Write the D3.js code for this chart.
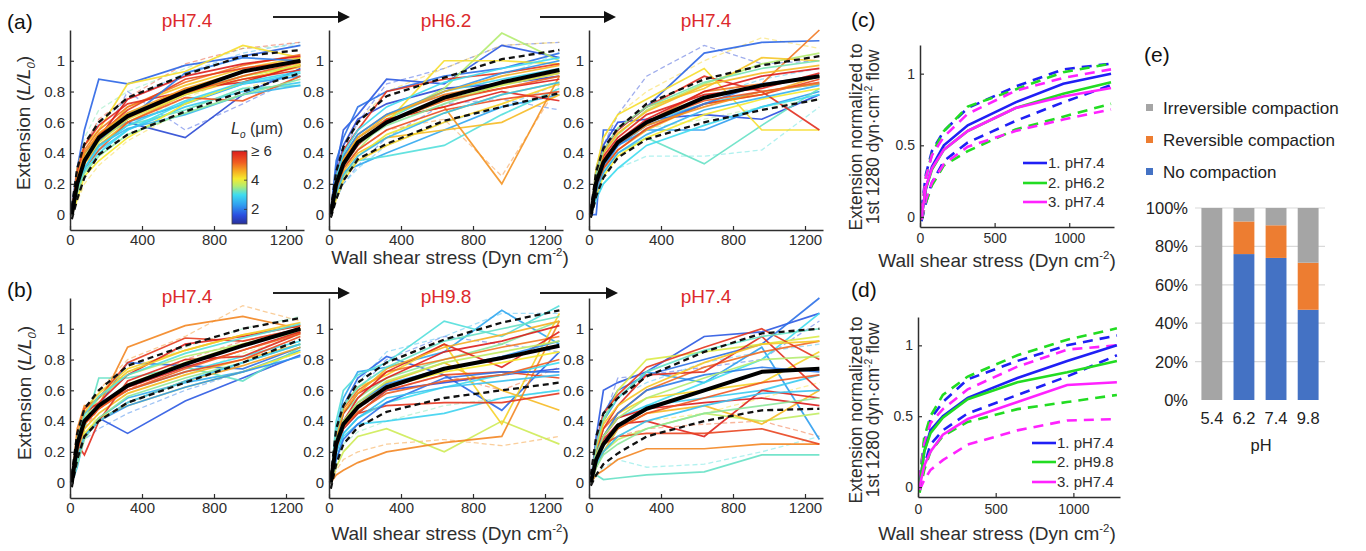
<!DOCTYPE html>
<html>
<head>
<meta charset="utf-8">
<script src="https://cdn.jsdelivr.net/npm/d3@7"></script>
<style>
  body { margin: 0; background: #fff; }
  svg { display: block; font-family: "Liberation Sans", Arial, sans-serif; }
</style>
</head>
<body>
<svg id="fig" width="1366" height="551"></svg>
<script>
// shear stress levels (Dyn cm-2)
var stress = [10, 40, 80, 160, 320, 640, 960, 1280];

var xTicksAB = [0, 400, 800, 1200]
    , yTicksAB = [0, 0.2, 0.4, 0.6, 0.8, 1]
    , xTicksCD = [0, 500, 1000]
    , yTicksCD = [0, 0.5, 1];

var titlesA = ["pH7.4", "pH6.2", "pH7.4"];
var titlesB = ["pH7.4", "pH9.8", "pH7.4"];

// one row per tether: [L0 (um), dashed?, extension at each stress level]
var tracesA1 = [
    [1.8,0, 0.05,0.3,0.55,0.88,0.85,0.97,1.03,1.1],
    [1.5,0, 0.0,0.22,0.4,0.52,0.6,0.5,0.78,0.95],
    [2.3,0, 0.02,0.25,0.38,0.5,0.6,0.72,0.85,0.9],
    [2.8,0, 0.0,0.18,0.3,0.42,0.55,0.7,0.8,0.86],
    [3.2,0, 0.03,0.2,0.35,0.45,0.58,0.68,0.82,0.84],
    [3.0,0, 0.0,0.15,0.28,0.4,0.55,0.73,0.85,0.92],
    [3.5,0, 0.02,0.22,0.38,0.52,0.66,0.8,0.9,0.97],
    [4.2,0, 0.0,0.3,0.45,0.55,0.85,0.93,1.1,1.02],
    [4.4,0, 0.02,0.2,0.38,0.48,0.7,0.84,0.95,1.02],
    [4.6,0, 0.0,0.18,0.33,0.45,0.6,0.78,0.88,0.96],
    [4.1,0, 0.0,0.1,0.25,0.35,0.5,0.72,0.86,0.98],
    [5.0,0, 0.03,0.25,0.42,0.55,0.7,0.86,0.97,1.04],
    [5.6,0, 0.0,0.22,0.4,0.52,0.68,0.88,0.95,1.0],
    [5.8,0, 0.02,0.28,0.45,0.58,0.72,0.8,0.88,0.94],
    [6.0,0, 0.0,0.2,0.36,0.5,0.75,0.9,0.98,1.03],
    [5.3,0, 0.0,0.15,0.3,0.42,0.6,0.76,0.74,0.9],
    [6.0,0, 0.03,0.18,0.34,0.48,0.64,0.82,0.86,0.97],
    [2.0,0, 0.0,0.2,0.35,0.48,0.62,0.92,1.02,1.0],
    [2.6,0, 0.0,0.15,0.3,0.45,0.56,0.65,0.78,0.84],
    [3.9,0, 0.0,0.2,0.34,0.47,0.62,0.78,0.9,0.97],
    [4.7,0, 0.02,0.24,0.4,0.53,0.66,0.82,0.93,1.0],
    [2.9,0, 0.0,0.16,0.3,0.44,0.58,0.74,0.86,0.93],
    [5.2,0, 0.0,0.2,0.36,0.5,0.63,0.79,0.9,0.99],
    [3.4,0, 0.0,0.14,0.27,0.38,0.52,0.66,0.78,0.88],
    [1.6,1, 0.0,0.1,0.3,0.45,0.8,0.55,0.72,0.9],
    [2.5,1, 0.02,0.28,0.45,0.6,0.75,0.92,1.05,1.12],
    [4.3,1, 0.0,0.08,0.2,0.32,0.48,0.68,0.82,0.92],
    [3.3,1, 0.0,0.25,0.5,0.68,0.8,0.95,1.08,1.1],
    [5.5,1, 0.02,0.3,0.45,0.62,0.76,0.98,1.08,1.12],
    [3.8,1, 0.0,0.15,0.32,0.45,0.58,0.76,0.9,0.98]
];
var tracesA2 = [
    [1.7,0, 0.0,0.3,0.55,0.65,0.88,0.85,1.1,1.02],
    [1.9,0, 0.02,0.35,0.5,0.7,0.8,0.9,0.95,1.05],
    [1.5,0, 0.0,0.25,0.45,0.62,0.72,0.82,0.85,0.9],
    [2.4,0, 0.0,0.15,0.28,0.32,0.4,0.55,0.7,0.78],
    [3.1,0, 0.0,0.12,0.25,0.35,0.38,0.45,0.65,0.82],
    [2.9,0, 0.0,0.2,0.35,0.5,0.62,0.8,0.88,0.95],
    [3.6,0, 0.0,0.15,0.3,0.42,0.62,0.82,1.18,1.0],
    [4.2,0, 0.0,0.2,0.35,0.48,0.6,1.0,1.0,0.98],
    [4.5,0, 0.0,0.15,0.28,0.4,0.5,0.55,0.6,0.78],
    [4.3,0, 0.0,0.1,0.22,0.35,0.45,0.6,0.72,0.85],
    [4.8,0, 0.0,0.2,0.35,0.5,0.62,0.7,0.2,0.9],
    [5.0,0, 0.0,0.22,0.38,0.52,0.65,0.78,0.85,0.92],
    [5.7,0, 0.02,0.25,0.42,0.55,0.8,0.88,0.92,0.98],
    [5.9,0, 0.0,0.18,0.32,0.45,0.62,0.7,0.8,0.74],
    [6.0,0, 0.0,0.2,0.36,0.48,0.6,0.75,0.82,0.88],
    [5.4,0, 0.0,0.15,0.3,0.42,0.55,0.68,0.75,0.8],
    [2.2,0, 0.0,0.22,0.38,0.52,0.65,0.8,0.92,1.0],
    [3.4,0, 0.0,0.18,0.32,0.46,0.58,0.72,0.85,0.94],
    [4.0,0, 0.0,0.12,0.25,0.38,0.52,0.66,0.78,0.86],
    [3.8,0, 0.0,0.18,0.33,0.46,0.6,0.74,0.84,0.92],
    [4.6,0, 0.0,0.22,0.36,0.5,0.64,0.8,0.9,0.97],
    [2.6,0, 0.0,0.14,0.26,0.38,0.5,0.66,0.78,0.86],
    [5.2,0, 0.0,0.2,0.34,0.48,0.6,0.74,0.82,0.9],
    [3.0,0, 0.0,0.25,0.4,0.55,0.7,0.86,0.95,1.02],
    [1.6,1, 0.0,0.2,0.4,0.6,0.85,0.95,1.1,1.12],
    [1.8,1, 0.0,0.1,0.2,0.32,0.5,0.72,0.75,0.68],
    [4.9,1, 0.0,0.2,0.3,0.42,0.55,0.62,0.25,0.85],
    [4.4,1, 0.0,0.25,0.45,0.6,0.8,0.95,1.1,1.12],
    [3.3,1, 0.0,0.15,0.3,0.45,0.6,0.76,0.9,1.05],
    [2.7,1, 0.0,0.1,0.2,0.3,0.45,0.6,0.7,0.85]
];
var tracesA3 = [
    [1.8,0, 0.0,0.0,0.55,0.55,0.7,1.05,1.12,1.13],
    [1.6,0, 0.0,0.3,0.45,0.6,0.62,0.65,0.62,0.78],
    [2.3,0, 0.0,0.2,0.3,0.45,0.55,0.55,0.7,0.8],
    [3.2,0, 0.0,0.15,0.28,0.4,0.5,0.33,0.58,0.82],
    [2.8,0, 0.0,0.2,0.35,0.48,0.6,0.72,0.8,0.85],
    [3.6,0, 0.0,0.25,0.4,0.52,0.68,0.85,0.98,1.05],
    [4.2,0, 0.0,0.3,0.5,0.65,0.75,0.95,0.55,0.55],
    [4.4,0, 0.0,0.25,0.42,0.56,0.7,0.82,1.02,1.0],
    [4.6,0, 0.0,0.18,0.3,0.42,0.55,0.72,0.78,0.9],
    [4.1,0, 0.0,0.12,0.25,0.38,0.5,0.65,0.75,0.82],
    [5.0,0, 0.0,0.2,0.36,0.48,0.6,0.8,0.85,1.2],
    [5.8,0, 0.0,0.25,0.42,0.55,0.7,0.9,0.8,0.55],
    [6.0,0, 0.0,0.2,0.35,0.48,0.62,0.8,0.9,0.95],
    [5.5,0, 0.0,0.15,0.3,0.42,0.56,0.72,0.78,0.88],
    [5.9,0, 0.0,0.22,0.38,0.5,0.65,0.78,0.82,0.92],
    [2.0,0, 0.0,0.18,0.32,0.45,0.58,0.72,0.85,0.9],
    [3.0,0, 0.0,0.1,0.2,0.3,0.45,0.58,0.7,0.78],
    [4.8,0, 0.0,0.2,0.35,0.46,0.58,0.7,0.8,0.85],
    [3.8,0, 0.0,0.2,0.34,0.47,0.6,0.76,0.84,0.9],
    [4.5,0, 0.0,0.24,0.4,0.53,0.67,0.84,0.92,0.97],
    [2.5,0, 0.0,0.15,0.27,0.4,0.52,0.68,0.76,0.84],
    [5.3,0, 0.0,0.2,0.36,0.48,0.6,0.74,0.8,0.86],
    [3.3,0, 0.0,0.26,0.42,0.56,0.7,0.86,0.95,1.0],
    [1.5,1, 0.0,0.2,0.45,0.65,0.9,1.1,0.98,1.0],
    [3.1,1, 0.0,0.1,0.2,0.3,0.38,0.38,0.42,0.7],
    [4.3,1, 0.0,0.3,0.5,0.65,0.8,1.0,1.15,1.08],
    [3.5,1, 0.0,0.2,0.35,0.46,0.56,0.62,0.7,0.75],
    [2.6,1, 0.0,0.15,0.3,0.44,0.6,0.76,0.88,0.95]
];
var tracesB1 = [
    [1.7,0, 0.0,0.2,0.3,0.42,0.32,0.53,0.68,0.83],
    [1.9,0, 0.0,0.25,0.4,0.5,0.78,0.76,0.74,0.88],
    [2.5,0, 0.0,0.1,0.3,0.42,0.55,0.65,0.72,0.86],
    [3.2,0, 0.0,0.15,0.35,0.68,0.68,0.75,0.66,0.88],
    [3.0,0, 0.0,0.2,0.38,0.5,0.6,0.72,0.82,0.92],
    [3.6,0, 0.0,0.25,0.42,0.55,0.7,0.82,0.9,0.98],
    [4.3,0, 0.0,0.28,0.48,0.58,0.74,0.86,0.96,1.02],
    [4.5,0, 0.0,0.2,0.35,0.45,0.58,0.7,0.8,0.9],
    [4.1,0, 0.0,0.15,0.32,0.42,0.5,0.62,0.72,0.85],
    [4.9,0, 0.0,0.35,0.5,0.5,0.88,1.02,1.08,1.0],
    [5.6,0, 0.0,0.3,0.48,0.55,0.78,0.94,0.92,1.0],
    [5.8,0, 0.0,0.25,0.18,0.4,0.66,0.8,0.82,0.97],
    [6.0,0, 0.0,0.2,0.38,0.48,0.62,0.75,0.86,0.98],
    [5.4,0, 0.0,0.22,0.4,0.5,0.6,0.72,0.8,0.95],
    [5.9,0, 0.0,0.3,0.45,0.52,0.7,0.9,0.95,1.02],
    [2.2,0, 0.0,0.18,0.3,0.4,0.5,0.62,0.72,0.82],
    [3.4,0, 0.0,0.12,0.28,0.42,0.56,0.68,0.78,0.9],
    [4.7,0, 0.0,0.18,0.3,0.4,0.52,0.66,0.76,0.88],
    [3.8,0, 0.0,0.24,0.4,0.5,0.64,0.78,0.9,1.0],
    [4.4,0, 0.0,0.3,0.46,0.56,0.72,0.86,0.96,1.04],
    [2.7,0, 0.0,0.16,0.3,0.4,0.52,0.66,0.78,0.9],
    [5.2,0, 0.0,0.22,0.38,0.48,0.6,0.74,0.86,0.97],
    [3.1,0, 0.0,0.28,0.44,0.56,0.7,0.84,0.94,1.03],
    [4.8,1, 0.0,0.3,0.45,0.6,0.8,0.95,1.15,1.05],
    [2.0,1, 0.0,0.2,0.28,0.35,0.45,0.6,0.72,0.85],
    [3.3,1, 0.0,0.25,0.4,0.55,0.72,0.88,1.0,1.08],
    [3.7,1, 0.0,0.15,0.3,0.45,0.58,0.7,0.84,0.96],
    [5.5,1, 0.0,0.22,0.35,0.48,0.6,0.8,0.92,1.0]
];
var tracesB2 = [
    [1.8,0, 0.0,0.3,0.5,0.68,0.82,0.7,0.47,0.85],
    [1.6,0, 0.0,0.2,0.35,0.45,0.6,0.65,0.7,0.74],
    [2.4,0, 0.0,0.35,0.55,0.72,0.75,0.85,1.12,0.9],
    [3.1,0, 0.0,0.4,0.6,0.7,0.78,1.05,0.95,1.15],
    [2.9,0, 0.0,0.15,0.3,0.38,0.4,0.45,0.55,0.6],
    [3.4,0, 0.0,0.25,0.45,0.55,0.68,0.8,0.9,1.05],
    [3.8,0, 0.0,0.1,0.2,0.3,0.35,0.2,0.4,0.25],
    [4.3,0, 0.0,0.3,0.5,0.62,0.7,0.9,0.38,1.1],
    [4.5,0, 0.0,0.2,0.38,0.5,0.65,0.78,0.6,0.47],
    [4.9,0, 0.0,0.05,0.08,0.13,0.2,0.26,0.3,1.05],
    [5.0,0, 0.0,0.3,0.48,0.6,0.72,0.8,0.88,0.95],
    [5.7,0, 0.0,0.22,0.35,0.45,0.5,0.52,0.52,0.58],
    [5.9,0, 0.0,0.25,0.4,0.55,0.72,0.9,0.75,0.98],
    [6.0,0, 0.0,0.3,0.45,0.58,0.68,0.85,0.92,1.02],
    [5.5,0, 0.0,0.2,0.38,0.45,0.6,0.7,0.72,0.68],
    [2.2,0, 0.0,0.25,0.4,0.52,0.64,0.74,0.82,0.92],
    [3.0,0, 0.0,0.2,0.32,0.42,0.52,0.62,0.7,0.78],
    [4.1,0, 0.0,0.25,0.4,0.5,0.62,0.72,0.78,0.85],
    [1.9,0, 0.0,0.15,0.28,0.38,0.52,0.68,0.72,0.72],
    [3.7,0, 0.0,0.26,0.4,0.52,0.66,0.78,0.85,0.92],
    [4.6,0, 0.0,0.3,0.46,0.58,0.74,0.88,0.96,1.05],
    [2.7,0, 0.0,0.2,0.32,0.42,0.55,0.62,0.66,0.7],
    [5.2,0, 0.0,0.22,0.36,0.46,0.58,0.66,0.7,0.8],
    [3.2,0, 0.0,0.32,0.5,0.62,0.75,0.92,1.0,1.08],
    [2.6,1, 0.0,0.3,0.5,0.65,0.85,0.95,1.1,1.1],
    [4.8,1, 0.0,0.08,0.15,0.2,0.25,0.28,0.24,0.3],
    [3.3,1, 0.0,0.15,0.25,0.33,0.4,0.5,0.55,0.6],
    [1.7,1, 0.0,0.25,0.45,0.6,0.8,0.95,0.9,0.85],
    [5.3,1, 0.0,0.2,0.35,0.48,0.6,0.7,0.6,0.75]
];
var tracesB3 = [
    [1.7,0, 0.0,0.3,0.6,0.65,0.72,0.95,0.98,1.1],
    [1.9,0, 0.0,0.25,0.45,0.6,0.7,0.8,0.9,1.2],
    [2.3,0, 0.0,0.2,0.4,0.55,0.72,0.65,0.88,0.28],
    [3.2,0, 0.0,0.05,0.02,0.03,0.05,0.07,0.18,0.18],
    [3.0,0, 0.0,0.1,0.2,0.35,0.5,0.65,0.8,1.1],
    [2.8,0, 0.0,0.15,0.3,0.42,0.5,0.55,0.6,0.7],
    [3.7,0, 0.0,0.1,0.2,0.28,0.35,0.45,0.4,0.45],
    [3.9,0, 0.0,0.2,0.4,0.6,0.8,0.85,0.9,0.95],
    [4.3,0, 0.0,0.15,0.3,0.45,0.55,0.6,0.65,0.85],
    [4.5,0, 0.0,0.1,0.2,0.35,0.45,0.5,0.38,0.6],
    [4.9,0, 0.0,0.05,0.08,0.15,0.22,0.22,0.25,0.25],
    [5.1,0, 0.0,0.2,0.35,0.45,0.6,0.75,0.85,0.92],
    [5.7,0, 0.0,0.25,0.45,0.57,0.75,0.88,1.0,0.8],
    [5.9,0, 0.0,0.15,0.28,0.38,0.4,0.3,0.6,0.55],
    [6.0,0, 0.0,0.2,0.3,0.42,0.48,0.52,0.55,0.5],
    [5.5,0, 0.0,0.15,0.25,0.3,0.32,0.32,0.35,0.25],
    [5.8,0, 0.0,0.2,0.35,0.5,0.7,0.72,0.95,0.6],
    [2.0,0, 0.0,0.2,0.3,0.45,0.6,0.7,0.75,0.72],
    [3.4,0, 0.0,0.1,0.18,0.25,0.35,0.45,0.5,0.55],
    [3.6,0, 0.0,0.18,0.3,0.42,0.55,0.68,0.8,0.82],
    [4.4,0, 0.0,0.22,0.38,0.5,0.62,0.78,0.9,0.92],
    [2.7,0, 0.0,0.12,0.2,0.3,0.4,0.5,0.58,0.6],
    [5.3,0, 0.0,0.15,0.25,0.35,0.45,0.55,0.65,0.7],
    [3.2,0, 0.0,0.25,0.42,0.55,0.72,0.86,0.95,1.0],
    [1.6,1, 0.0,0.2,0.4,0.68,0.7,0.75,0.8,1.05],
    [5.2,1, 0.0,0.1,0.2,0.3,0.35,0.38,0.4,0.3],
    [3.1,1, 0.0,0.05,0.1,0.15,0.1,0.12,0.2,0.3],
    [4.2,1, 0.0,0.1,0.2,0.3,0.4,0.45,0.55,0.65],
    [2.6,1, 0.0,0.25,0.4,0.55,0.65,0.78,0.85,0.9]
];

// mean and mean +/- SD per panel
var meanA1 = [0.0, 0.2, 0.35, 0.5, 0.64, 0.8, 0.93, 1.0]
    , upA1 = [0.05, 0.3, 0.46, 0.6, 0.76, 0.91, 1.03, 1.07]
    , loA1 = [-0.03, 0.1, 0.24, 0.39, 0.52, 0.67, 0.8, 0.92];
var meanA2 = [0.0, 0.2, 0.33, 0.47, 0.6, 0.76, 0.86, 0.94]
    , upA2 = [0.03, 0.28, 0.44, 0.6, 0.77, 0.89, 1.01, 1.07]
    , loA2 = [-0.02, 0.1, 0.22, 0.36, 0.46, 0.61, 0.7, 0.79];
var meanA3 = [0.0, 0.21, 0.34, 0.47, 0.6, 0.76, 0.84, 0.9]
    , upA3 = [0.03, 0.28, 0.43, 0.56, 0.72, 0.88, 0.97, 1.03]
    , loA3 = [-0.02, 0.12, 0.24, 0.37, 0.49, 0.6, 0.68, 0.75];
var meanB1 = [0.0, 0.25, 0.4, 0.5, 0.63, 0.77, 0.89, 1.0]
    , upB1 = [0.05, 0.32, 0.48, 0.6, 0.76, 0.89, 1.0, 1.07]
    , loB1 = [-0.03, 0.15, 0.3, 0.4, 0.52, 0.65, 0.78, 0.93];
var meanB2 = [0.0, 0.25, 0.38, 0.49, 0.62, 0.74, 0.81, 0.89]
    , upB2 = [0.04, 0.35, 0.5, 0.65, 0.78, 0.93, 1.04, 1.12]
    , loB2 = [-0.04, 0.12, 0.25, 0.36, 0.46, 0.55, 0.6, 0.65];
var meanB3 = [0.0, 0.15, 0.25, 0.37, 0.48, 0.6, 0.72, 0.74]
    , upB3 = [0.05, 0.3, 0.45, 0.55, 0.69, 0.85, 0.97, 1.0]
    , loB3 = [-0.02, 0.05, 0.12, 0.19, 0.3, 0.4, 0.47, 0.48];

var legendC = ["1. pH7.4", "2. pH6.2", "3. pH7.4"];
var legendD = ["1. pH7.4", "2. pH9.8", "3. pH7.4"];

// (e) compaction fractions (%)
var phCats = ["5.4", "6.2", "7.4", "9.8"];
var noComp = [0, 76, 74, 47];
var revComp = [0, 17, 17, 24.5];
var irrevComp = [100, 7, 9, 28.5];
var compKeys = ["No compaction", "Reversible compaction", "Irreversible compaction"];
var pctTicks = [0, 20, 40, 60, 80, 100];

var cbTicks = [2, 4, 6];
var cbLabels = ["2", "4", "\u2265 6"];


var svg = d3.select("#fig")
    , ink = "#2e2e2e"
    , red = "#dc2a2c"
    , phColors = ["#1f1ff5", "#22dc22", "#ff22ff"]
    , barColors = ["#4472c4", "#ed7d31", "#a5a5a5"];

var jet = d3.scaleLinear()
    .domain([1, 1.6, 2.3, 3.0, 3.6, 4.1, 4.6, 5.2, 6])
    .range(["#28309a", "#2a4ee0", "#2f9ef0", "#3fdcf0", "#b4ec70", "#f6ea2e", "#f6ae22", "#f05e22", "#dc1c1c"])
    .clamp(true);

function styleAxis(a, size) {
    a.attr("font-size", size).attr("font-family", null);
    a.select(".domain").attr("stroke", ink).attr("stroke-width", 1.5);
    a.selectAll(".tick line").attr("stroke", ink).attr("stroke-width", 1.2);
    a.selectAll(".tick text").attr("fill", ink);
}

function drawAxes(g, x, y, xt, yt, size, padX, padY) {
    var ax = g.append("g")
        .attr("transform", "translate(0," + y.range()[0] + ")")
        .call(d3.axisBottom(x).tickValues(xt).tickSizeInner(-4).tickSizeOuter(0).tickPadding(padX).tickFormat(d => String(d)));
    styleAxis(ax, size);
    var ay = g.append("g")
        .attr("transform", "translate(" + x.range()[0] + ",0)")
        .call(d3.axisLeft(y).tickValues(yt).tickSizeInner(-4).tickSizeOuter(0).tickPadding(padY).tickFormat(d => String(d)));
    styleAxis(ay, size);
}

function lineFor(x, y) {
    return d3.line()
        .x((d, i) => x(stress[i]))
        .y(d => y(d));
}

function drawSpaghetti(g, x, y, traces, mean, up, lo) {
    var line = lineFor(x, y);
    traces.filter(t => t[1] === 1).forEach(function(t) {
        g.append("path")
            .attr("d", line(t.slice(2)))
            .attr("fill", "none")
            .attr("stroke", jet(t[0]))
            .attr("stroke-width", 1.3)
            .attr("stroke-dasharray", "5,3")
            .attr("opacity", 0.45);
    });
    traces.filter(t => t[1] === 0).forEach(function(t) {
        g.append("path")
            .attr("d", line(t.slice(2)))
            .attr("fill", "none")
            .attr("stroke", jet(t[0]))
            .attr("stroke-width", 1.7)
            .attr("opacity", 0.9);
    });
    [up, lo].forEach(function(s) {
        g.append("path")
            .attr("d", line(s))
            .attr("fill", "none")
            .attr("stroke", "#111")
            .attr("stroke-width", 2.3)
            .attr("stroke-dasharray", "6,4");
    });
    g.append("path")
        .attr("d", line(mean))
        .attr("fill", "none")
        .attr("stroke", "#000")
        .attr("stroke-width", 4)
        .attr("stroke-linejoin", "round");
}

function shearLabel(cx, by, size) {
    var t = svg.append("text")
        .attr("x", cx).attr("y", by)
        .attr("text-anchor", "middle")
        .attr("font-size", size)
        .attr("fill", ink);
    t.append("tspan").text("Wall shear stress (Dyn cm");
    t.append("tspan").attr("dy", -size * 0.42).attr("font-size", size * 0.6).text("-2");
    t.append("tspan").attr("dy", size * 0.42).text(")");
}

function extLabel(bx, cy, size) {
    var t = svg.append("text")
        .attr("transform", "translate(" + bx + "," + cy + ") rotate(-90)")
        .attr("text-anchor", "middle")
        .attr("font-size", size)
        .attr("fill", ink);
    t.append("tspan").text("Extension (");
    t.append("tspan").attr("font-style", "italic").text("L/L");
    t.append("tspan").attr("font-style", "italic").attr("dy", size * 0.25).attr("font-size", size * 0.6).text("0");
    t.append("tspan").attr("dy", -size * 0.25).text(")");
}

function normLabel(bx, cy, size) {
    svg.append("text")
        .attr("transform", "translate(" + bx + "," + cy + ") rotate(-90)")
        .attr("text-anchor", "middle")
        .attr("font-size", size)
        .attr("fill", ink)
        .text("Extension normalized to");
    var t = svg.append("text")
        .attr("transform", "translate(" + (bx + 17) + "," + cy + ") rotate(-90)")
        .attr("text-anchor", "middle")
        .attr("font-size", size)
        .attr("fill", ink);
    t.append("tspan").text("1st 1280 dyn\u00b7cm");
    t.append("tspan").attr("dy", -size * 0.42).attr("font-size", size * 0.6).text("-2");
    t.append("tspan").attr("dy", size * 0.42).text(" flow");
}

function panelLabel(txt, x, y) {
    svg.append("text").attr("x", x).attr("y", y)
        .attr("font-size", 21).attr("fill", "#111").text(txt);
}

function arrow(x1, x2, y) {
    svg.append("line")
        .attr("x1", x1).attr("x2", x2 - 10).attr("y1", y).attr("y2", y)
        .attr("stroke", "#222").attr("stroke-width", 2.2);
    svg.append("path")
        .attr("d", d3.line()([[x2 - 12, y - 6], [x2, y], [x2 - 12, y + 6]]) + "Z")
        .attr("fill", "#111");
}

// ---- (a) and (b): individual tethers ----
var colX = [70, 329, 589]
    , colW = 234
    , rowTop = [30, 298]
    , rowH = 200
    , titleY = [27, 303];

var rows = [
    {titles: titlesA, traces: [tracesA1, tracesA2, tracesA3], mean: [meanA1, meanA2, meanA3], up: [upA1, upA2, upA3], lo: [loA1, loA2, loA3]},
    {titles: titlesB, traces: [tracesB1, tracesB2, tracesB3], mean: [meanB1, meanB2, meanB3], up: [upB1, upB2, upB3], lo: [loB1, loB2, loB3]}
];

rows.forEach(function(row, r) {
    row.titles.forEach(function(title, c) {
        var x = d3.scaleLinear().domain([0, 1300]).range([colX[c], colX[c] + colW]);
        var y = d3.scaleLinear().domain([-0.1, 1.2]).range([rowTop[r] + rowH, rowTop[r]]);
        var g = svg.append("g");
        drawSpaghetti(g, x, y, row.traces[c], row.mean[c], row.up[c], row.lo[c]);
        drawAxes(g, x, y, xTicksAB, yTicksAB, 15, 4, 5);
        svg.append("text")
            .attr("x", colX[c] + 117).attr("y", titleY[r])
            .attr("text-anchor", "middle")
            .attr("font-size", 19)
            .attr("fill", red)
            .text(title);
    });
});

panelLabel("(a)", 7, 29);
panelLabel("(b)", 7, 297);
arrow(273, 350, 17);
arrow(540, 616, 17);
arrow(273, 350, 293);
arrow(540, 618, 293);
extLabel(30, 123, 19);
extLabel(31, 393, 19);
shearLabel(450, 264, 19);
shearLabel(450, 540, 19);

// colour bar for L0
var cbY = d3.scaleLinear().domain([1, 6]).range([224, 151]);
var grad = svg.append("defs").append("linearGradient")
    .attr("id", "jetgrad").attr("x1", 0).attr("x2", 0).attr("y1", 1).attr("y2", 0);
jet.domain().forEach(function(v) {
    grad.append("stop").attr("offset", (v - 1) / 5).attr("stop-color", jet(v));
});
svg.append("rect")
    .attr("x", 232).attr("y", cbY(6)).attr("width", 15).attr("height", cbY(1) - cbY(6))
    .attr("fill", "url(#jetgrad)").attr("stroke", "#444").attr("stroke-width", 0.8);
cbTicks.forEach(function(v, i) {
    svg.append("line").attr("x1", 244).attr("x2", 247).attr("y1", cbY(v)).attr("y2", cbY(v))
        .attr("stroke", "#333").attr("stroke-width", 0.8);
    svg.append("text").attr("x", 251).attr("y", cbY(v) + 5)
        .attr("font-size", 15).attr("fill", ink).text(cbLabels[i]);
});
var cbt = svg.append("text").attr("x", 231).attr("y", 134).attr("font-size", 16).attr("fill", ink);
cbt.append("tspan").attr("font-style", "italic").text("L");
cbt.append("tspan").attr("font-style", "italic").attr("font-size", 10).attr("dy", 4).text("o");
cbt.append("tspan").attr("dy", -4).text(" (\u03bcm)");

// ---- (c) and (d): averages ----
var cd = [
    {label: "(c)", ly: 27, xr: [920, 1114], yr: [227, 45], legend: legendC, legY: [163, 183, 202], legX: 1023, padX: 6,
        means: [meanA1, meanA2, meanA3], ups: [upA1, upA2, upA3], los: [loA1, loA2, loA3], xl: 267, ylc: 137},
    {label: "(d)", ly: 297, xr: [918, 1120], yr: [497, 317], legend: legendD, legY: [443, 462, 482], legX: 1032, padX: 7,
        means: [meanB1, meanB2, meanB3], ups: [upB1, upB2, upB3], los: [loB1, loB2, loB3], xl: 540, ylc: 410}
];

cd.forEach(function(p) {
    var x = d3.scaleLinear().domain([0, 1300]).range(p.xr);
    var y = d3.scaleLinear().domain([-0.07, 1.2]).range(p.yr);
    var line = lineFor(x, y);
    var g = svg.append("g");
    p.means.forEach(function(m, i) {
        [p.ups[i], p.los[i]].forEach(function(s) {
            g.append("path").attr("d", line(s)).attr("fill", "none")
                .attr("stroke", phColors[i]).attr("stroke-width", 2.6)
                .attr("stroke-dasharray", "10,7");
        });
    });
    p.means.forEach(function(m, i) {
        g.append("path").attr("d", line(m)).attr("fill", "none")
            .attr("stroke", phColors[i]).attr("stroke-width", 2.6);
    });
    drawAxes(g, x, y, xTicksCD, yTicksCD, 14, p.padX, 5);
    p.legend.forEach(function(txt, i) {
        svg.append("line").attr("x1", p.legX).attr("x2", p.legX + 24)
            .attr("y1", p.legY[i]).attr("y2", p.legY[i])
            .attr("stroke", phColors[i]).attr("stroke-width", 2.6);
        svg.append("text").attr("x", p.legX + 25).attr("y", p.legY[i] + 5)
            .attr("font-size", 15).attr("fill", ink).text(txt);
    });
    panelLabel(p.label, 851, p.ly);
    normLabel(862, p.ylc, 17.5);
    shearLabel(997, p.xl, 19);
});

// ---- (e): compaction bars ----
var ex = d3.scaleBand().domain(phCats).range([1195, 1325]).paddingInner(0.35).paddingOuter(0.2);
var ey = d3.scaleLinear().domain([0, 100]).range([400, 208]);
var eg = svg.append("g");
pctTicks.forEach(function(v) {
    if (v > 0) {
        eg.append("line").attr("x1", 1195).attr("x2", 1325).attr("y1", ey(v)).attr("y2", ey(v))
            .attr("stroke", "#d9d9d9").attr("stroke-width", 1.2);
    }
    eg.append("text").attr("x", 1188).attr("y", ey(v) + 6).attr("text-anchor", "end")
        .attr("font-size", 16.5).attr("fill", "#222").text(v + "%");
});
var table = phCats.map((c, i) => ({cat: c, "No compaction": noComp[i], "Reversible compaction": revComp[i], "Irreversible compaction": irrevComp[i]}));
var stacked = d3.stack().keys(compKeys)(table);
stacked.forEach(function(layer, k) {
    eg.selectAll(null).data(layer).enter().append("rect")
        .attr("x", d => ex(d.data.cat))
        .attr("width", ex.bandwidth())
        .attr("y", d => ey(d[1]))
        .attr("height", d => ey(d[0]) - ey(d[1]))
        .attr("fill", barColors[k]);
});
phCats.forEach(function(c) {
    eg.append("text").attr("x", ex(c) + ex.bandwidth() / 2).attr("y", 424)
        .attr("text-anchor", "middle").attr("font-size", 16.5).attr("fill", "#222").text(c);
});
eg.append("text").attr("x", 1261).attr("y", 451).attr("text-anchor", "middle")
    .attr("font-size", 16.5).attr("fill", "#222").text("pH");

panelLabel("(e)", 1144, 62);
var legE = [compKeys[2], compKeys[1], compKeys[0]];
legE.forEach(function(txt, i) {
    var cy = 108 + i * 32;
    svg.append("rect").attr("x", 1146).attr("y", cy - 4).attr("width", 7).attr("height", 7)
        .attr("fill", barColors[2 - i]);
    svg.append("text").attr("x", 1163).attr("y", cy + 6)
        .attr("font-size", 17).attr("fill", "#222").text(txt);
});
</script>
</body>
</html>
